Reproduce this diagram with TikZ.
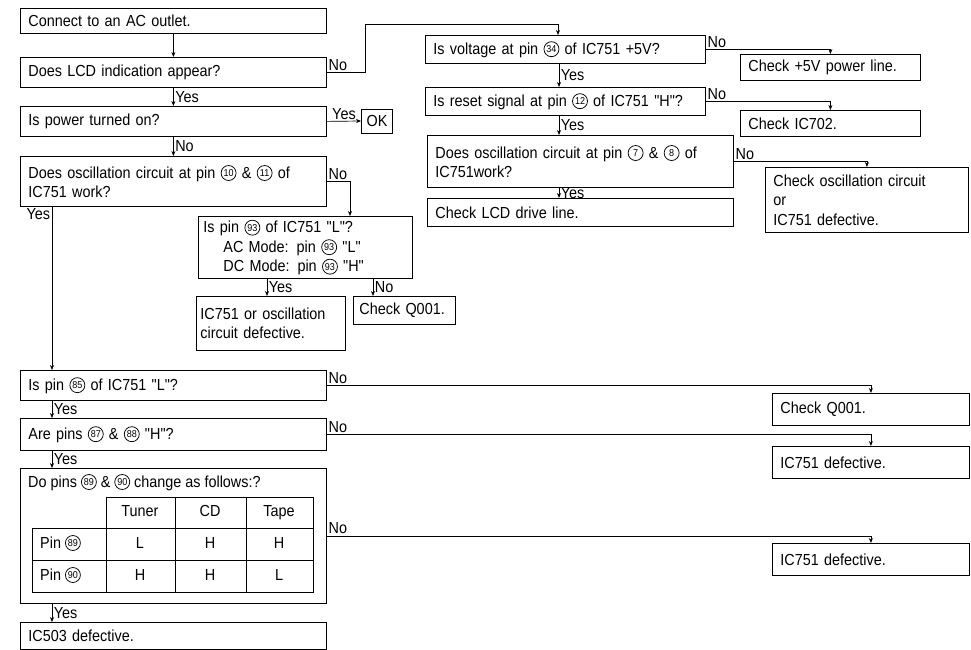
\documentclass[tikz,border=0pt]{standalone}
\usepackage{fontspec}
\setmainfont{Liberation Sans}[Ligatures=TeXOff,FakeStretch=0.9]
\usetikzlibrary{arrows.meta}
% 圈号引脚
\newcommand{\pin}[1]{\tikz[baseline={([yshift=-5pt]c.center)}]\node[circle,draw,anchor=center,text width={},text height={},text depth={},minimum size=15pt,inner sep=0pt,line width=0.75pt,align=center,font=\fontsize{10}{10}\selectfont] (c) {#1};}

\begin{document}
\begin{tikzpicture}[x=1pt,y=-1pt,>={Stealth[length=5pt,width=4pt]},line width=0.7pt,
  every node/.style={font=\fontsize{16}{19.5}\selectfont},
  box/.style={draw,line width=0.8pt,anchor=north west,inner xsep=8pt,inner ysep=0pt,align=left},
  okbox/.style={draw,line width=0.8pt,minimum width=31pt,minimum height=24pt,inner sep=0pt},
  lbl/.style={inner sep=1.5pt},
  cell/.style={inner sep=0pt,text height=11pt,text depth=3pt}]
\fill[white] (0,0) rectangle (971,650);
\useasboundingbox (0,0) rectangle (971,650);
% ---- 左列 ----
\node[box,text width=290pt,minimum height=25pt] (A) at (20,8) {Connect to an AC outlet.};
\node[box,text width=290pt,minimum height=30pt] (B) at (20,57) {Does LCD indication appear?};
\node[box,text width=290pt,minimum height=30pt] (P) at (20,106) {Is power turned on?};
\node[okbox] (OK) at (377,121) {OK};
\node[box,text width=290pt,minimum height=50pt] (O1) at (20,156) {Does oscillation circuit at pin \pin{10} \& \pin{11} of\\IC751 work?};
\node[box,text width=204pt,inner xsep=5pt,minimum height=62pt] (Q93) at (198,216) {Is pin \pin{93} of IC751 "L"?\\\hspace*{20pt}AC Mode: pin \pin{93} "L"\\\hspace*{20pt}DC Mode: pin \pin{93} "H"};
\node[box,text width=141pt,inner xsep=4pt,minimum height=54pt] (RA) at (196,296) {IC751 or oscillation\\circuit defective.};
\node[box,text width=90pt,inner xsep=6pt,minimum height=28pt] (RQ) at (353,296) {Check Q001.};
\node[box,text width=290pt,minimum height=30pt] (Q85) at (20,370) {Is pin \pin{85} of IC751 "L"?};
\node[box,text width=290pt,minimum height=32pt] (Q87) at (20,418) {Are pins \pin{87} \& \pin{88} "H"?};
\node[box,minimum width=306pt,minimum height=135pt] (Q89) at (20,468) {};
\node[cell,anchor=west] (Q89t) at (28,483) {Do pins \pin{89} \& \pin{90} change as follows:?};
\node[box,text width=290pt,minimum height=27pt] (R503) at (20,622) {IC503 defective.};
% ---- 表格 ----
\draw[line width=0.8pt] (106,497) rectangle (313,592);
\draw[line width=0.8pt] (32,528) -- (313,528) (32,560) -- (313,560)
  (32,528) -- (32,592) -- (106,592) (175,497) -- (175,592) (246,497) -- (246,592);
\foreach \x/\t [count=\i] in {140/Tuner,210/CD,279/Tape}
  \node[cell] (th\i) at (\x,512) {\t};
\foreach \y/\p/\ca/\cb/\cc [count=\j] in {544/89/L/H/H,576/90/H/H/L}{
  \node[cell,anchor=west] (tp\j) at (40,\y) {Pin \pin{\p}};
  \node[cell] (ta\j) at (140,\y) {\ca};
  \node[cell] (tb\j) at (210,\y) {\cb};
  \node[cell] (tc\j) at (279,\y) {\cc};}
% ---- 右列 ----
\node[box,text width=264pt,minimum height=28pt] (C) at (425,35) {Is voltage at pin \pin{34} of IC751 +5V?};
\node[box,text width=264pt,minimum height=28pt] (D) at (425,87) {Is reset signal at pin \pin{12} of IC751 "H"?};
\node[box,text width=290pt,minimum height=52pt] (E) at (427,135) {Does oscillation circuit at pin \pin{7} \& \pin{8} of\\IC751work?};
\node[box,text width=290pt,minimum height=28pt] (F) at (427,198) {Check LCD drive line.};
\node[box,text width=164pt,minimum height=26pt] (R5V) at (740,54) {Check +5V power line.};
\node[box,text width=164pt,minimum height=26pt] (R702) at (740,110) {Check IC702.};
\node[box,text width=187pt,minimum height=65pt] (ROSC) at (765,167) {Check oscillation circuit\\or\\IC751 defective.};
\node[box,text width=181pt,minimum height=32pt] (R001) at (772,393) {Check Q001.};
\node[box,text width=181pt,minimum height=32pt] (R751a) at (772,446) {IC751 defective.};
\node[box,text width=181pt,minimum height=32pt] (R751b) at (772,543) {IC751 defective.};
% ---- 连线 ----
\draw[->] (A.south) -- (B.north);
\draw[->] (B.south) -- (P.north) node[midway,right,lbl] {Yes};
\draw[->] (P.east) -- (OK.west) node[midway,above,lbl] {Yes};
\draw[->] (P.south) -- (O1.north) node[midway,right,lbl] {No};
\draw[->] (B.east) node[above right,lbl] {No} -- ++(39,0)
  |- ([xshift=133pt,yshift=11pt]C.north west) -- ([xshift=133pt]C.north west);
\draw[->] (O1.east) node[above right,lbl] {No} -| ([xshift=152pt]Q93.north west);
\draw[->] ([xshift=32pt]O1.south west) node[below left,lbl] {Yes} -- ([xshift=32pt]O1.south west |- Q85.north);
\draw[->] ([xshift=69pt]Q93.south west) -- ([xshift=69pt]Q93.south west |- RA.north) node[midway,right,lbl] {Yes};
\draw[->] ([xshift=175pt]Q93.south west) -- ([xshift=175pt]Q93.south west |- RQ.north) node[midway,right,lbl] {No};
\draw[->] ([xshift=32pt]Q85.south west) -- ([xshift=32pt]Q85.south west |- Q87.north) node[midway,right,lbl] {Yes};
\draw[->] ([xshift=32pt]Q87.south west) -- ([xshift=32pt]Q87.south west |- Q89.north) node[midway,right,lbl] {Yes};
\draw[->] ([xshift=32pt]Q89.south west) -- ([xshift=32pt]Q89.south west |- R503.north) node[midway,right,lbl] {Yes};
\draw[->] ([xshift=134pt]C.south west) -- ([xshift=134pt]C.south west |- D.north) node[midway,right,lbl] {Yes};
\draw[->] ([xshift=134pt]D.south west) -- ([xshift=134pt]D.south west |- E.north) node[midway,right,lbl] {Yes};
\draw[->] ([xshift=132pt]E.south west) -- ([xshift=132pt]E.south west |- F.north) node[midway,right,lbl] {Yes};
\draw[->] (C.east) node[above right,lbl] {No} -| (R5V.north);
\draw[->] (D.east) node[above right,lbl] {No} -| (R702.north);
\draw[->] (E.east) node[above right,lbl] {No} -| (ROSC.north);
\draw[->] (Q85.east) node[above right,lbl] {No} -| (R001.north);
\draw[->] (Q87.east) node[above right,lbl] {No} -| (R751a.north);
\draw[->] (Q89.east) node[above right,lbl] {No} -| (R751b.north);
\end{tikzpicture}
\end{document}
